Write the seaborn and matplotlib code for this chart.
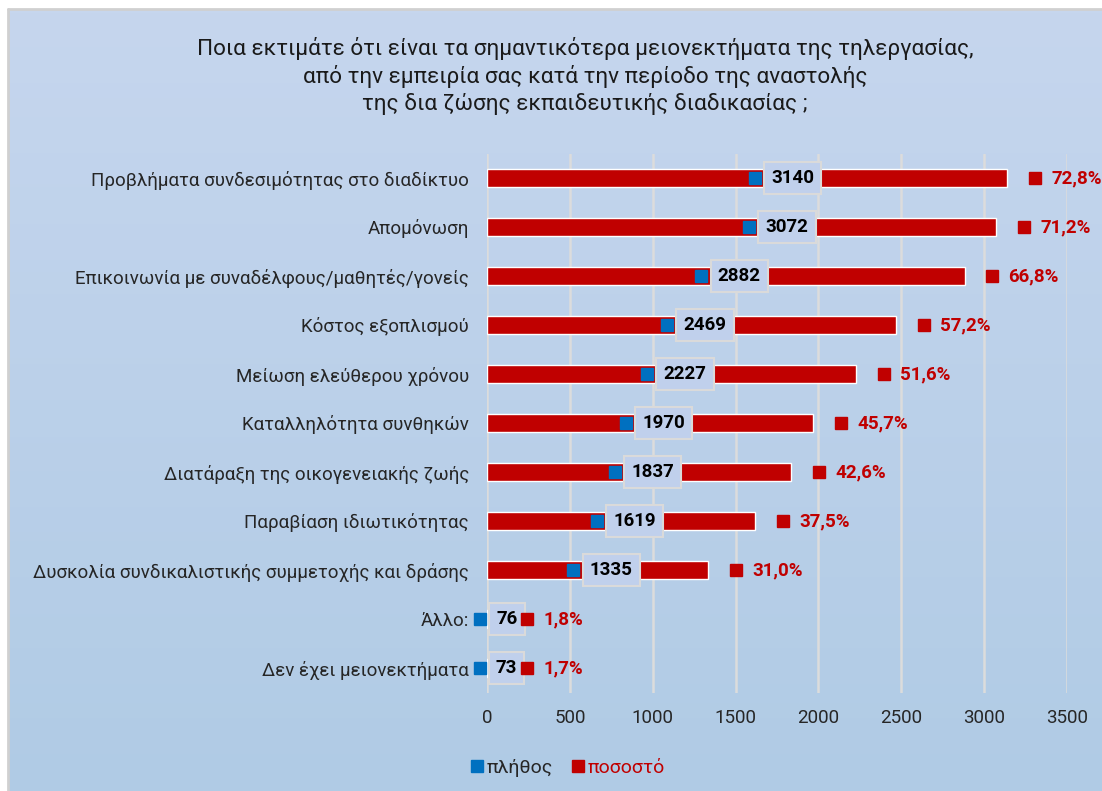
import numpy as np
import pandas as pd
import matplotlib.pyplot as plt
import seaborn as sns
from matplotlib.lines import Line2D
from matplotlib import transforms

categories = [
    'Προβλήματα συνδεσιμότητας στο διαδίκτυο',
    'Απομόνωση',
    'Επικοινωνία με συναδέλφους/μαθητές/γονείς',
    'Κόστος εξοπλισμού',
    'Μείωση ελεύθερου χρόνου',
    'Καταλληλότητα συνθηκών',
    'Διατάραξη της οικογενειακής ζωής',
    'Παραβίαση ιδιωτικότητας',
    'Δυσκολία συνδικαλιστικής συμμετοχής και δράσης',
    'Άλλο:',
    'Δεν έχει μειονεκτήματα',
]
counts = [3140, 3072, 2882, 2469, 2227, 1970, 1837, 1619, 1335, 76, 73]
percents = [72.8, 71.2, 66.8, 57.2, 51.6, 45.7, 42.6, 37.5, 31.0, 1.8, 1.7]
xticks = [0, 500, 1000, 1500, 2000, 2500, 3000, 3500]
title = ('Ποια εκτιμάτε ότι είναι τα σημαντικότερα μειονεκτήματα της τηλεργασίας,\n'
         'από την εμπειρία σας κατά την περίοδο της αναστολής\n'
         'της δια ζώσης εκπαιδευτικής διαδικασίας ;')

RED = '#c00000'
BLUE = '#0070c0'

sns.set_style('white')
plt.rcParams['font.family'] = ['Roboto', 'DejaVu Sans']

df = pd.DataFrame({'cat': categories, 'n': counts})

W, H = 1102, 791
fig = plt.figure(figsize=(W / 100, H / 100), dpi=100)
fig.patch.set_facecolor('white')

# gradient background of the chart area
bg = fig.add_axes([9 / W, 0, 1 - 9 / W, 1 - 10 / H], zorder=-10)
grad = np.linspace(0, 1, 256).reshape(-1, 1)
top = np.array([0xc6, 0xd6, 0xee]) / 255
bot = np.array([0xb0, 0xcb, 0xe5]) / 255
img = top + grad[..., None] * (bot - top)
bg.imshow(img, aspect='auto', extent=[0, 1, 0, 1])
bg.set_axis_off()
fig.add_artist(Line2D([8 / W, 8 / W], [0, 1 - 9 / H], color='#d0d0d0', lw=2))
fig.add_artist(Line2D([8 / W, 1], [1 - 9 / H, 1 - 9 / H], color='#d0d0d0', lw=2))

ax = fig.add_axes([487 / W, 1 - 692.5 / H, 580 / W, 539 / H])
ax.patch.set_alpha(0)
sns.barplot(data=df, x='n', y='cat', orient='h', color=RED, saturation=1,
            width=0.35, ax=ax)

ax.set_xlim(0, 3500)
ax.set_ylim(len(categories) - 0.5, -0.5)
ax.set_xticks(xticks)
ax.grid(axis='x', color='#dcdcdc', lw=1.8)
ax.set_axisbelow(True)
sns.despine(ax=ax, left=True, bottom=True)
ax.set_xlabel('')
ax.set_ylabel('')
ax.tick_params(axis='y', length=0, pad=13, labelsize=13.5, labelcolor='#262626')
ax.tick_params(axis='x', length=0, pad=12, labelsize=13.5, labelcolor='#262626')

# count labels with the blue key, percentage labels with the red key
for i, (v, p) in enumerate(zip(counts, percents)):
    nudge = 32 if i < 2 else 0
    box_w = 12 + 11.5 * len(str(v))
    group_w = 15 + box_w
    box_c = (6 - group_w / 2 + 15 + box_w / 2 + nudge) * 0.72
    key_c = (6 - group_w / 2 + 6 + nudge) * 0.72
    ax.annotate(str(v), xy=(v / 2, i), xytext=(box_c, 0), textcoords='offset points',
                ha='center', va='center', fontsize=13.5, fontweight='bold', color='black',
                bbox=dict(boxstyle='square,pad=0.38', fc='#c0d0ec', ec='#dadada', lw=1.5))
    tr = transforms.offset_copy(ax.transData, fig=fig, x=key_c, y=0, units='points')
    ax.plot(v / 2, i, marker='s', ms=8.5, color=BLUE, ls='', transform=tr,
            clip_on=False, zorder=5)

    tr2 = transforms.offset_copy(ax.transData, fig=fig, x=27.5 * 0.72, y=0, units='points')
    ax.plot(v, i, marker='s', ms=8.5, color=RED, ls='', transform=tr2, clip_on=False, zorder=5)
    ax.annotate(f'{p:.1f}%'.replace('.', ','), xy=(v, i), xytext=(44 * 0.72, 0),
                textcoords='offset points', ha='left', va='center', fontsize=13.5,
                fontweight='bold', color=RED, annotation_clip=False)

fig.text(585 / W, 1 - 76 / H, title, ha='center', va='center', fontsize=16.2,
         color='#1a1a1a', linespacing=1.3)

handles = [Line2D([], [], marker='s', ls='', color=BLUE, ms=8.5),
           Line2D([], [], marker='s', ls='', color=RED, ms=8.5)]
leg = fig.legend(handles, ['πλήθος', 'ποσοστό'], loc='center', ncol=2,
                 bbox_to_anchor=(566 / W, 1 - 768 / H), frameon=False, fontsize=14,
                 handletextpad=0.0, columnspacing=0.8, handlelength=1.0)
leg.get_texts()[0].set_color('#262626')
leg.get_texts()[1].set_color(RED)

fig.savefig('out.png', dpi=100)
